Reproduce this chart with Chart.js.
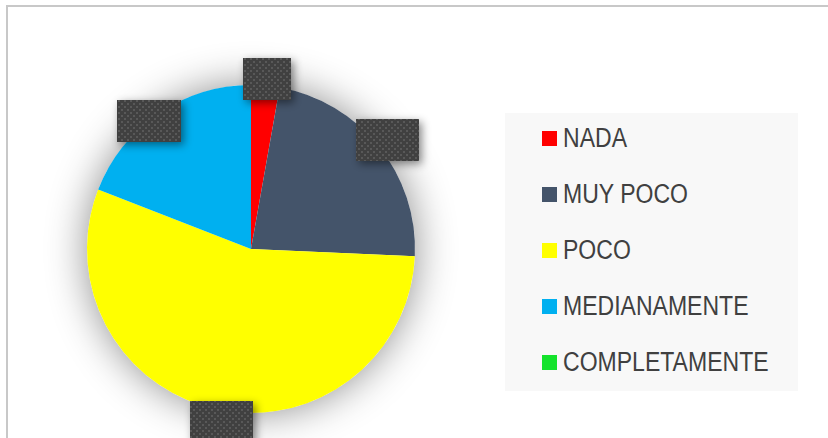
<!DOCTYPE html>
<html>
<head>
<meta charset="utf-8">
<script src="https://cdn.jsdelivr.net/npm/chart.js@4.4.1/dist/chart.umd.min.js"></script>
<style>
    body { margin: 0; background: #fff; }
    #wrap { position: relative; width: 828px; height: 438px; overflow: hidden; }
    #frame { position: absolute; left: 6px; top: 5px; width: 900px; height: 500px;
             border-left: 2px solid #c8c8c8; border-top: 2px solid #c8c8c8; }
    #pieChart { position: absolute; left: 0; top: 0; }
    #legend { position: absolute; left: 505px; top: 113px; width: 293px; height: 278px;
              background: #f8f8f8; font-family: "Liberation Sans", Arial, sans-serif;
              font-size: 27px; color: #404040; }
    .item { position: absolute; left: 37px; height: 30px; line-height: 30px; white-space: nowrap; }
    .item .box { position: absolute; left: 0; top: 8px; width: 15px; height: 15px; }
    .item .txt { position: absolute; left: 21px; top: 0; transform: scaleX(0.853); transform-origin: 0 0; }
</style>
</head>
<body>
<div id="wrap">
    <div id="frame"></div>
    <canvas id="pieChart" width="828" height="438"></canvas>
    <div id="legend"></div>
</div>
<script>
const categories = ['NADA', 'MUY POCO', 'POCO', 'MEDIANAMENTE', 'COMPLETAMENTE'];
const answers = [2.8, 22.9, 55.2, 19.1, 0];
const colors = ['#ff0000', '#44546a', '#ffff00', '#00b0f0', '#14e32c'];

// dotted dark fill for the label boxes
function dotPattern(ctx) {
    const tile = document.createElement('canvas');
    tile.width = 6; tile.height = 6;
    const t = tile.getContext('2d');
    t.fillStyle = '#404040';
    t.fillRect(0, 0, 6, 6);
    t.fillStyle = '#585858';
    t.fillRect(1, 1, 2, 2);
    t.fillRect(4, 4, 2, 2);
    return ctx.createPattern(tile, 'repeat');
}

const pieShadow = {
    id: 'pieShadow',
    beforeDatasetsDraw(chart) {
        const arc = chart.getDatasetMeta(0).data[0];
        const ctx = chart.ctx;
        ctx.save();
        ctx.shadowColor = 'rgba(0,0,0,0.45)';
        ctx.shadowBlur = 40;
        ctx.fillStyle = '#ffffff';
        ctx.beginPath();
        ctx.arc(arc.x, arc.y, arc.outerRadius, 0, Math.PI * 2);
        ctx.fill();
        ctx.restore();
    }
};

// empty data-label boxes placed just outside each slice
const labelBoxes = {
    id: 'labelBoxes',
    afterDatasetsDraw(chart, args, opts) {
        const ctx = chart.ctx;
        const fill = dotPattern(ctx);
        chart.getDatasetMeta(0).data.forEach((arc, i) => {
            if (!answers[i]) return;
            const mid = (arc.startAngle + arc.endAngle) / 2;
            const d = arc.outerRadius + opts.gaps[i];
            const cx = arc.x + Math.cos(mid) * d + opts.nudge[i][0];
            const cy = arc.y + Math.sin(mid) * d + opts.nudge[i][1];
            const w = opts.widths[i], h = opts.height;
            ctx.save();
            ctx.shadowColor = 'rgba(0,0,0,0.45)';
            ctx.shadowBlur = 8;
            ctx.shadowOffsetX = 3;
            ctx.shadowOffsetY = 3;
            ctx.fillStyle = fill;
            ctx.fillRect(Math.round(cx - w / 2), Math.round(cy - h / 2), w, h);
            ctx.restore();
        });
    }
};

const chart = new Chart(document.getElementById('pieChart'), {
    type: 'pie',
    data: {
        labels: categories,
        datasets: [{
            data: answers,
            backgroundColor: colors,
            borderWidth: 0
        }]
    },
    options: {
        responsive: false,
        animation: false,
        layout: { padding: { left: 87, right: 413, top: 85, bottom: 25 } },
        plugins: {
            legend: { display: false },
            tooltip: { enabled: false },
            labelBoxes: {
                gaps: [7, 11, 11, 0, 0],
                nudge: [[1, 0], [0, 0], [7, 2], [-9, 7], [0, 0]],
                height: 42,
                widths: [48, 63, 63, 64, 63]
            }
        }
    },
    plugins: [pieShadow, labelBoxes]
});

const legend = document.getElementById('legend');
chart.data.labels.forEach((name, i) => {
    const item = document.createElement('div');
    item.className = 'item';
    item.style.top = (10 + i * 56) + 'px';
    const box = document.createElement('span');
    box.className = 'box';
    box.style.background = chart.data.datasets[0].backgroundColor[i];
    const txt = document.createElement('span');
    txt.className = 'txt';
    txt.textContent = name;
    item.appendChild(box);
    item.appendChild(txt);
    legend.appendChild(item);
});
</script>
</body>
</html>
